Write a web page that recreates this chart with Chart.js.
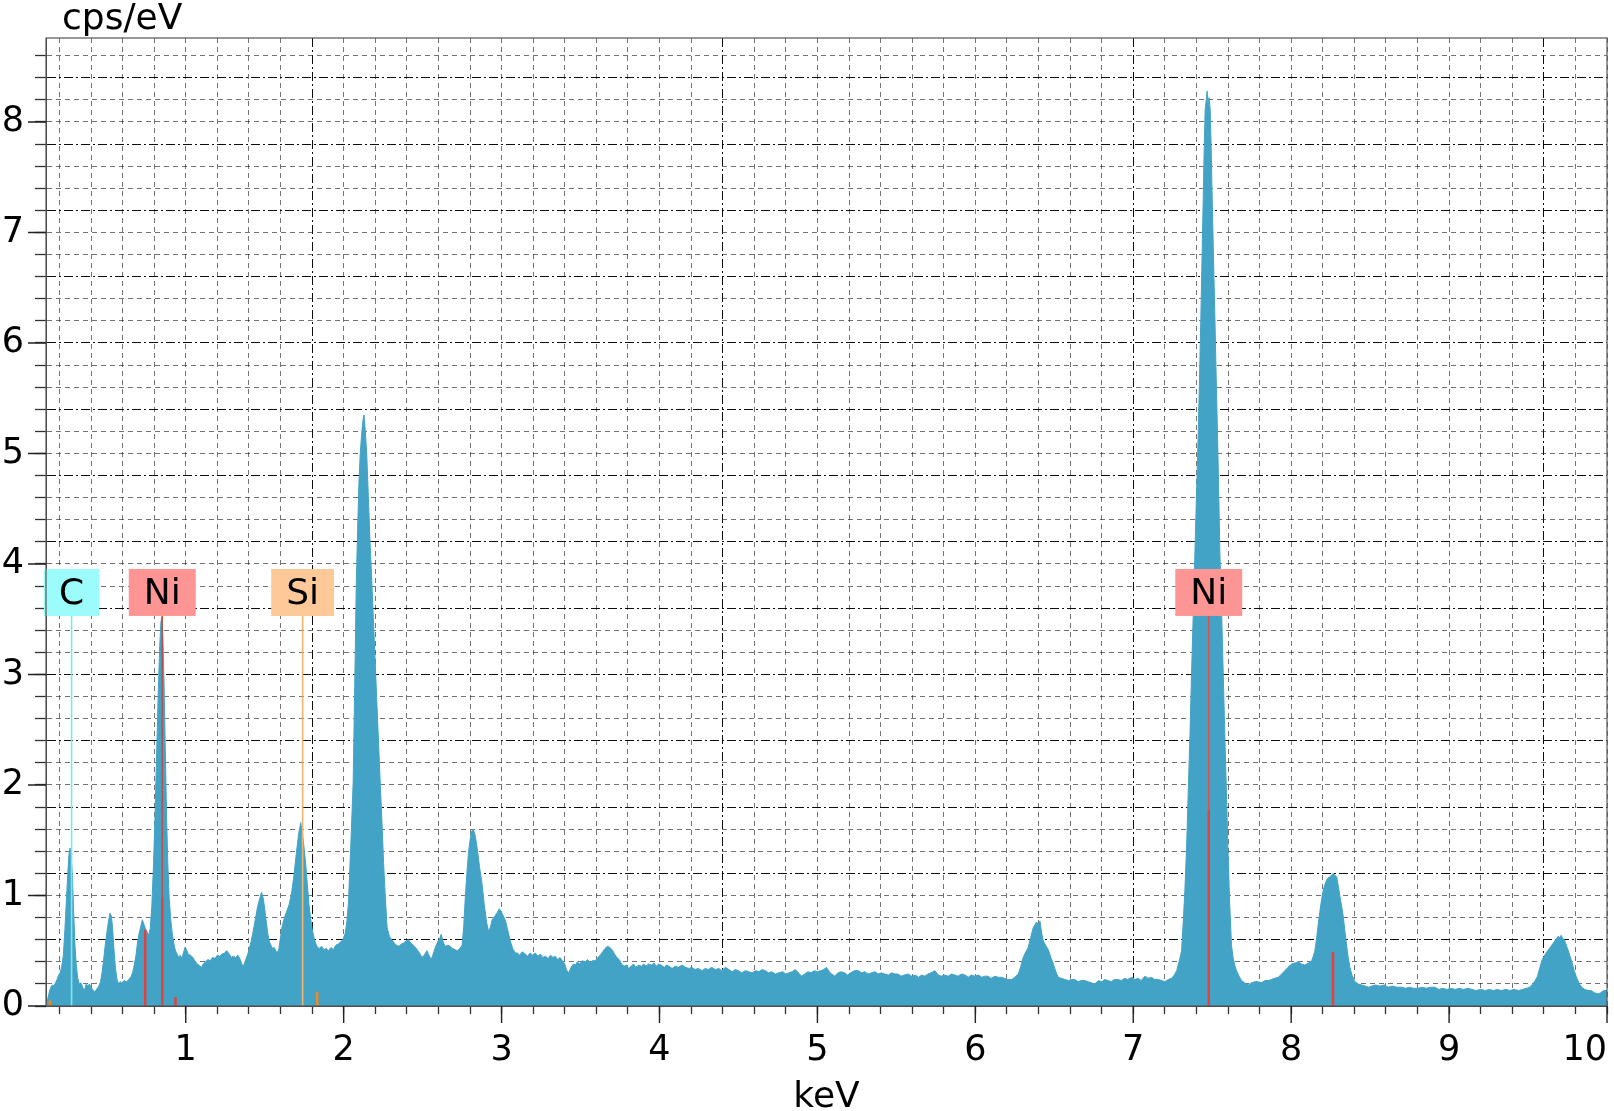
<!DOCTYPE html>
<html>
<head>
<meta charset="utf-8">
<script src="https://cdn.jsdelivr.net/npm/chart.js@4.4.1/dist/chart.umd.min.js"></script>
<style>
  html, body { margin: 0; padding: 0; background: #fff; }
  #wrap { width: 1614px; height: 1111px; }
</style>
</head>
<body>
<div id="wrap"><canvas id="chart" width="1614" height="1111"></canvas></div>
<script>
// axis ranges (keV / cps per eV)
const xMin = 0.115
const xMax = 10
const yMin = 0
const yMax = 8.76
const minorStep = 0.2

const xTickLabels = [1, 2, 3, 4, 5, 6, 7, 8, 9, 10]
const yTickLabels = [0, 1, 2, 3, 4, 5, 6, 7, 8]
const xDarkGrid = [1.8, 4.4, 7.0, 9.6]
const yDarkGrid = [0.6, 1.2, 1.8, 2.4, 3.0, 3.6, 4.2, 4.8, 5.4, 6.0, 6.6, 7.2, 7.8, 8.4]

// element labels
const elementNames = ['C', 'Ni', 'Si', 'Ni']
const elementEnergies = [0.277, 0.851, 1.740, 7.478]
const elementBoxColors = ['#9cfcfc', '#fd9595', '#fec898', '#fd9595']
const elementLineColors = ['#7fe6ef', '#b5544f', '#f3b46c', '#e0504c']
const labelTop = 3.955
const labelBottom = 3.53

// characteristic line markers
const markerEnergies = [0.139, 0.743, 0.851, 0.935, 1.832, 7.478, 8.265]
const markerHeights = [0.05, 0.69, 0.98, 0.08, 0.13, 1.77, 0.49]
const markerColors = ['#f08a1e', '#e0433d', '#e0433d', '#e0433d', '#f08a1e', '#e8413c', '#e8413c']

// spectrum [keV, cps/eV]
const spectrumPoints = [
  [0.118,0.00],[0.125,0.06],[0.135,0.12],[0.145,0.17],[0.155,0.19],[0.165,0.18],[0.175,0.21],[0.185,0.24],
  [0.195,0.28],[0.205,0.30],[0.215,0.36],[0.225,0.46],[0.235,0.70],[0.245,0.98],[0.255,1.25],[0.262,1.40],
  [0.268,1.43],[0.274,1.36],[0.282,1.18],[0.290,0.86],[0.298,0.56],[0.306,0.38],[0.315,0.26],[0.325,0.20],
  [0.335,0.21],[0.345,0.18],[0.355,0.14],[0.362,0.16],[0.370,0.20],[0.380,0.18],[0.390,0.20],[0.400,0.17],
  [0.410,0.15],[0.420,0.13],[0.430,0.14],[0.440,0.16],[0.450,0.18],[0.460,0.22],[0.470,0.30],[0.480,0.42],
  [0.490,0.55],[0.500,0.66],[0.510,0.76],[0.520,0.84],[0.528,0.82],[0.536,0.72],[0.545,0.52],[0.555,0.34],
  [0.565,0.24],[0.575,0.20],[0.585,0.22],[0.595,0.21],[0.610,0.23],[0.625,0.22],[0.640,0.24],[0.655,0.27],
  [0.665,0.31],[0.675,0.38],[0.685,0.46],[0.695,0.58],[0.705,0.66],[0.715,0.72],[0.725,0.78],[0.735,0.74],
  [0.745,0.70],[0.755,0.67],[0.765,0.64],[0.775,0.70],
  [0.785,0.90],[0.795,1.25],[0.805,1.70],[0.815,2.25],[0.825,2.80],[0.835,3.25],[0.843,3.48],[0.849,3.52],
  [0.855,3.35],[0.862,2.95],[0.870,2.35],[0.878,1.75],[0.886,1.30],[0.895,0.98],[0.905,0.78],[0.915,0.65],
  [0.925,0.56],[0.935,0.50],[0.945,0.47],[0.955,0.44],[0.965,0.46],[0.975,0.43],[0.985,0.48],[0.995,0.53],
  [1.005,0.51],[1.015,0.47],[1.030,0.46],[1.045,0.44],[1.060,0.40],[1.075,0.38],[1.090,0.36],[1.100,0.35],
  [1.110,0.38],[1.125,0.40],[1.140,0.42],[1.155,0.41],[1.170,0.44],[1.185,0.43],[1.200,0.46],[1.215,0.45],
  [1.230,0.47],[1.245,0.48],[1.260,0.50],[1.275,0.47],[1.290,0.44],[1.300,0.45],[1.315,0.44],[1.330,0.46],
  [1.345,0.42],[1.355,0.38],[1.365,0.36],[1.380,0.42],[1.395,0.48],[1.410,0.56],[1.425,0.66],[1.440,0.78],
  [1.455,0.90],[1.470,0.98],[1.480,1.03],[1.490,0.98],[1.500,0.88],[1.510,0.76],[1.520,0.65],[1.530,0.58],
  [1.540,0.55],[1.550,0.52],[1.560,0.53],[1.570,0.50],[1.580,0.48],[1.590,0.52],[1.600,0.62],[1.610,0.72],
  [1.625,0.80],[1.640,0.86],[1.655,0.92],[1.670,1.02],[1.685,1.18],[1.700,1.38],[1.715,1.56],[1.728,1.66],
  [1.740,1.55],[1.750,1.42],[1.760,1.28],[1.770,1.10],[1.780,0.92],[1.790,0.80],[1.800,0.70],[1.815,0.60],
  [1.830,0.54],[1.845,0.52],[1.860,0.54],[1.875,0.51],[1.890,0.52],[1.905,0.50],[1.920,0.53],[1.935,0.51],
  [1.950,0.55],[1.965,0.56],[1.980,0.58],[1.995,0.60],[2.010,0.66],[2.020,0.76],[2.030,0.93],[2.045,1.45],
  [2.060,2.02],[2.070,2.90],[2.080,3.84],[2.090,4.40],[2.097,4.75],[2.105,5.00],[2.114,5.18],[2.122,5.30],
  [2.129,5.35],[2.137,5.20],[2.146,5.00],[2.156,4.62],[2.167,4.20],[2.178,3.85],[2.189,3.47],[2.200,3.10],
  [2.210,2.75],[2.221,2.38],[2.232,2.00],[2.243,1.65],[2.253,1.29],[2.264,0.98],[2.275,0.71],[2.290,0.63],
  [2.305,0.60],[2.320,0.57],[2.335,0.55],[2.350,0.54],[2.365,0.56],[2.380,0.57],[2.395,0.59],[2.410,0.60],
  [2.425,0.57],[2.440,0.55],[2.455,0.53],[2.470,0.50],[2.485,0.47],[2.495,0.44],[2.510,0.46],[2.527,0.50],
  [2.540,0.46],[2.554,0.42],[2.567,0.47],[2.580,0.53],[2.595,0.58],[2.610,0.62],[2.618,0.65],[2.630,0.58],
  [2.643,0.54],[2.660,0.55],[2.675,0.54],[2.690,0.52],[2.705,0.51],[2.720,0.50],[2.735,0.52],[2.750,0.55],
  [2.760,0.72],[2.770,0.98],[2.780,1.20],[2.790,1.38],[2.800,1.50],[2.810,1.58],[2.820,1.60],[2.830,1.56],
  [2.840,1.48],[2.850,1.38],[2.860,1.26],[2.875,1.12],[2.890,0.92],[2.905,0.76],[2.918,0.67],[2.930,0.72],
  [2.940,0.78],[2.955,0.81],[2.970,0.84],[2.985,0.88],[2.995,0.86],[3.010,0.82],[3.025,0.77],[3.040,0.68],
  [3.055,0.59],[3.070,0.52],[3.087,0.48],[3.100,0.48],[3.115,0.46],[3.130,0.49],[3.150,0.47],[3.165,0.45],
  [3.180,0.48],[3.195,0.46],[3.213,0.48],[3.230,0.45],[3.245,0.47],[3.260,0.44],[3.277,0.45],[3.295,0.43],
  [3.310,0.46],[3.325,0.44],[3.340,0.45],[3.355,0.42],[3.370,0.44],[3.385,0.41],[3.400,0.38],[3.410,0.33],
  [3.425,0.30],[3.440,0.35],[3.455,0.38],[3.467,0.37],[3.480,0.40],[3.495,0.38],[3.510,0.41],[3.530,0.40],
  [3.545,0.42],[3.560,0.39],[3.575,0.41],[3.594,0.41],[3.610,0.44],[3.625,0.46],[3.640,0.49],[3.655,0.52],
  [3.670,0.54],[3.685,0.53],[3.700,0.51],[3.715,0.47],[3.730,0.44],[3.745,0.42],[3.760,0.38],[3.775,0.36],
  [3.790,0.37],[3.805,0.34],[3.820,0.36],[3.835,0.38],[3.850,0.35],[3.868,0.37],[3.885,0.36],[3.900,0.38],
  [3.915,0.36],[3.930,0.38],[3.950,0.37],[3.965,0.39],[3.980,0.36],[3.995,0.38],[4.010,0.37],[4.030,0.35],
  [4.045,0.37],[4.060,0.36],[4.080,0.34],[4.100,0.36],[4.120,0.35],[4.143,0.37],[4.165,0.35],[4.185,0.34],
  [4.206,0.35],[4.225,0.33],[4.245,0.34],[4.270,0.32],[4.290,0.34],[4.310,0.33],[4.330,0.35],[4.354,0.33],
  [4.375,0.34],[4.395,0.32],[4.417,0.35],[4.440,0.33],[4.460,0.31],[4.480,0.33],[4.500,0.32],[4.520,0.30],
  [4.545,0.32],[4.565,0.31],[4.586,0.30],[4.610,0.32],[4.630,0.31],[4.650,0.33],[4.670,0.32],[4.690,0.30],
  [4.710,0.31],[4.735,0.29],[4.755,0.30],[4.780,0.31],[4.800,0.29],[4.820,0.30],[4.840,0.31],[4.860,0.33],
  [4.880,0.30],[4.900,0.27],[4.920,0.29],[4.940,0.31],[4.960,0.30],[4.980,0.32],[5.000,0.31],[5.020,0.32],
  [5.040,0.33],[5.057,0.35],[5.075,0.31],[5.090,0.29],[5.110,0.27],[5.130,0.30],[5.150,0.31],[5.173,0.30],
  [5.190,0.28],[5.210,0.30],[5.235,0.32],[5.258,0.32],[5.280,0.30],[5.300,0.31],[5.320,0.29],[5.342,0.30],
  [5.365,0.31],[5.385,0.29],[5.405,0.30],[5.427,0.29],[5.450,0.28],[5.470,0.30],[5.490,0.29],[5.510,0.29],
  [5.530,0.27],[5.550,0.28],[5.575,0.29],[5.596,0.27],[5.620,0.28],[5.640,0.26],[5.660,0.28],[5.680,0.27],
  [5.700,0.29],[5.720,0.30],[5.744,0.32],[5.765,0.28],[5.785,0.27],[5.805,0.28],[5.828,0.27],[5.850,0.29],
  [5.870,0.28],[5.890,0.27],[5.913,0.29],[5.935,0.28],[5.955,0.26],[5.975,0.28],[5.997,0.27],[6.020,0.28],
  [6.040,0.26],[6.060,0.27],[6.080,0.27],[6.100,0.25],[6.125,0.27],[6.145,0.26],[6.166,0.26],[6.185,0.25],
  [6.205,0.24],[6.230,0.24],[6.250,0.26],[6.272,0.29],[6.288,0.36],[6.303,0.44],[6.320,0.49],[6.335,0.53],
  [6.350,0.62],[6.367,0.71],[6.388,0.76],[6.400,0.73],[6.409,0.77],[6.420,0.66],[6.430,0.59],[6.445,0.55],
  [6.462,0.51],[6.478,0.44],[6.494,0.38],[6.510,0.31],[6.525,0.26],[6.545,0.25],[6.567,0.24],[6.590,0.23],
  [6.610,0.24],[6.630,0.24],[6.650,0.22],[6.670,0.23],[6.694,0.23],[6.715,0.22],[6.735,0.21],[6.757,0.20],
  [6.780,0.23],[6.800,0.22],[6.820,0.24],[6.840,0.23],[6.860,0.22],[6.880,0.24],[6.905,0.24],[6.925,0.23],
  [6.945,0.25],[6.965,0.24],[6.990,0.26],[7.010,0.24],[7.030,0.25],[7.050,0.23],[7.074,0.27],[7.095,0.25],
  [7.115,0.26],[7.135,0.24],[7.159,0.24],[7.180,0.23],[7.200,0.22],[7.222,0.24],[7.243,0.25],[7.260,0.28],
  [7.275,0.32],[7.290,0.40],[7.306,0.50],[7.318,0.80],[7.327,1.05],[7.338,1.45],[7.348,1.93],[7.359,2.45],
  [7.369,3.00],[7.380,3.55],[7.390,4.08],[7.400,4.60],[7.411,5.15],[7.420,5.70],[7.428,6.23],[7.436,6.80],
  [7.443,7.30],[7.449,7.75],[7.455,8.10],[7.462,8.20],[7.468,8.28],[7.474,8.15],[7.480,8.22],[7.487,8.12],
  [7.493,7.80],[7.500,7.30],[7.508,6.78],[7.517,6.23],[7.525,5.70],[7.534,5.15],[7.542,4.60],[7.549,4.08],
  [7.560,3.55],[7.570,3.00],[7.580,2.45],[7.590,1.93],[7.600,1.40],[7.610,0.95],[7.622,0.55],[7.633,0.43],
  [7.645,0.36],[7.654,0.32],[7.670,0.27],[7.686,0.23],[7.705,0.21],[7.728,0.19],[7.750,0.21],[7.770,0.22],
  [7.790,0.22],[7.810,0.21],[7.835,0.23],[7.855,0.23],[7.875,0.24],[7.895,0.25],[7.918,0.26],[7.940,0.29],
  [7.960,0.32],[7.980,0.35],[8.003,0.38],[8.025,0.39],[8.045,0.40],[8.065,0.38],[8.087,0.37],[8.110,0.39],
  [8.130,0.41],[8.140,0.45],[8.150,0.50],[8.162,0.62],[8.172,0.75],[8.188,0.92],[8.203,1.05],[8.214,1.10],
  [8.224,1.14],[8.235,1.16],[8.247,1.17],[8.258,1.19],[8.267,1.20],[8.278,1.18],[8.288,1.17],[8.299,1.08],
  [8.309,0.99],[8.320,0.90],[8.330,0.81],[8.340,0.68],[8.350,0.56],[8.360,0.45],[8.372,0.35],[8.385,0.28],
  [8.404,0.22],[8.425,0.20],[8.446,0.19],[8.470,0.18],[8.490,0.17],[8.510,0.18],[8.535,0.19],[8.560,0.18],
  [8.590,0.19],[8.615,0.17],[8.640,0.18],[8.670,0.17],[8.700,0.17],[8.725,0.16],[8.750,0.17],[8.775,0.16],
  [8.800,0.16],[8.830,0.17],[8.855,0.16],[8.880,0.17],[8.910,0.17],[8.935,0.15],[8.960,0.16],[8.985,0.15],
  [9.010,0.16],[9.040,0.15],[9.065,0.16],[9.090,0.15],[9.120,0.16],[9.145,0.15],[9.170,0.14],[9.200,0.15],
  [9.230,0.14],[9.255,0.15],[9.280,0.14],[9.305,0.15],[9.330,0.14],[9.360,0.15],[9.385,0.14],[9.410,0.15],
  [9.440,0.14],[9.465,0.15],[9.490,0.16],[9.510,0.17],[9.530,0.20],[9.545,0.23],[9.560,0.27],[9.575,0.35],
  [9.590,0.42],[9.605,0.46],[9.620,0.49],[9.635,0.52],[9.650,0.55],[9.665,0.58],[9.680,0.61],[9.690,0.63],
  [9.700,0.62],[9.710,0.64],[9.720,0.61],[9.730,0.60],[9.740,0.56],[9.755,0.50],[9.775,0.41],[9.790,0.33],
  [9.807,0.26],[9.825,0.20],[9.840,0.17],[9.860,0.15],[9.880,0.14],[9.900,0.14],[9.920,0.12],[9.944,0.11],
  [9.960,0.12],[9.980,0.14],[10.00,0.14]
]

const fillBlue = '#42a3c6'
const lightGrid = 'rgba(30, 30, 30, 0.62)'
const darkGrid = 'rgba(0, 0, 0, 0.95)'
const fontFamily = '"DejaVu Sans", Verdana, sans-serif'

function isOnList(v, list) {
    return list.some(item => Math.abs(item - v) < 1e-6)
}

function buildTicks(scale, from, to) {
    const ticks = []
    for (let i = Math.ceil(from / minorStep - 1e-6); i * minorStep <= to + 1e-6; i++) {
        ticks.push({ value: Math.round(i * minorStep * 10) / 10 })
    }
    scale.ticks = ticks
}

const decorPlugin = {
    id: 'decor',
    afterDatasetsDraw(chart) {
        const ctx = chart.ctx
        const x = chart.scales.x
        const y = chart.scales.y
        const base = y.getPixelForValue(0)
        ctx.save()

        // connector lines from label boxes down to baseline
        for (let i = 0; i < elementNames.length; i++) {
            const px = x.getPixelForValue(elementEnergies[i])
            ctx.strokeStyle = elementLineColors[i]
            ctx.lineWidth = 1.6
            ctx.beginPath()
            ctx.moveTo(px, y.getPixelForValue(labelBottom))
            ctx.lineTo(px, base)
            ctx.stroke()
        }

        // line markers
        for (let i = 0; i < markerEnergies.length; i++) {
            const px = x.getPixelForValue(markerEnergies[i])
            ctx.strokeStyle = markerColors[i]
            ctx.lineWidth = 2.5
            ctx.beginPath()
            ctx.moveTo(px, base)
            ctx.lineTo(px, y.getPixelForValue(markerHeights[i]))
            ctx.stroke()
        }

        // label boxes
        ctx.font = '36px ' + fontFamily
        ctx.textAlign = 'center'
        ctx.textBaseline = 'middle'
        const top = y.getPixelForValue(labelTop)
        const bottom = y.getPixelForValue(labelBottom)
        for (let i = 0; i < elementNames.length; i++) {
            const px = x.getPixelForValue(elementEnergies[i])
            const w = ctx.measureText(elementNames[i]).width + 30
            ctx.fillStyle = elementBoxColors[i]
            ctx.fillRect(px - w / 2, top, w, bottom - top)
            ctx.fillStyle = '#000'
            ctx.fillText(elementNames[i], px, (top + bottom) / 2 + 2)
        }
        ctx.restore()
    },
    afterDraw(chart) {
        const ctx = chart.ctx
        const area = chart.chartArea
        const x = chart.scales.x
        const y = chart.scales.y
        ctx.save()

        // frame
        ctx.strokeStyle = '#555'
        ctx.lineWidth = 1.2
        ctx.strokeRect(area.left, area.top, area.right - area.left, area.bottom - area.top)

        // long ticks at labelled values
        ctx.strokeStyle = '#222'
        ctx.lineWidth = 1.4
        ctx.beginPath()
        xTickLabels.forEach(v => {
            const px = x.getPixelForValue(v)
            ctx.moveTo(px, area.bottom)
            ctx.lineTo(px, area.bottom + 17)
        })
        yTickLabels.forEach(v => {
            const py = y.getPixelForValue(v)
            ctx.moveTo(area.left - 18, py)
            ctx.lineTo(area.left, py)
        })
        ctx.stroke()

        // unit label
        ctx.fillStyle = '#000'
        ctx.font = '36px ' + fontFamily
        ctx.textAlign = 'left'
        ctx.textBaseline = 'alphabetic'
        ctx.fillText('cps/eV', area.left + 16, 29)
        ctx.restore()
    }
}

const config = {
    type: 'line',
    data: {
        datasets: [{
            label: 'spectrum',
            data: spectrumPoints.map(p => ({ x: p[0], y: p[1] })),
            borderColor: fillBlue,
            backgroundColor: fillBlue,
            borderWidth: 1,
            fill: 'origin',
            pointRadius: 0,
            tension: 0,
        }]
    },
    options: {
        responsive: false,
        animation: false,
        devicePixelRatio: 1,
        layout: {
            padding: { top: 38, right: 7, bottom: 0, left: 0 }
        },
        scales: {
            x: {
                type: 'linear',
                min: xMin,
                max: xMax,
                afterBuildTicks: (scale) => buildTicks(scale, xMin, xMax),
                afterFit: (scale) => {
                    scale.height = 105
                    scale.paddingLeft = 0
                    scale.paddingRight = 0
                },
                ticks: {
                    autoSkip: false,
                    maxRotation: 0,
                    align: 'inner',
                    padding: 16,
                    color: '#000',
                    font: { family: fontFamily, size: 35 },
                    callback: (value) => isOnList(value, xTickLabels) ? String(value) : ''
                },
                grid: {
                    color: (ctx) => ctx.tick && isOnList(ctx.tick.value, xDarkGrid) ? darkGrid : lightGrid,
                    lineWidth: 1,
                    tickLength: 8,
                    tickColor: '#333',
                    tickWidth: 1.3,
                },
                border: {
                    display: true,
                    color: '#444',
                    width: 1,
                    dash: (ctx) => ctx.tick && isOnList(ctx.tick.value, xDarkGrid) ? [9, 3, 2, 3] : [5, 4],
                },
                title: {
                    display: true,
                    text: 'keV',
                    color: '#000',
                    font: { family: fontFamily, size: 36, lineHeight: 0.66 },
                    padding: { top: 0, bottom: 1 }
                }
            },
            y: {
                type: 'linear',
                min: yMin,
                max: yMax,
                afterBuildTicks: (scale) => buildTicks(scale, yMin, yMax),
                afterFit: (scale) => {
                    scale.width = 46
                    scale.paddingTop = 0
                    scale.paddingBottom = 0
                },
                ticks: {
                    autoSkip: false,
                    padding: 11,
                    color: '#000',
                    font: { family: fontFamily, size: 35 },
                    callback: (value) => isOnList(value, yTickLabels) ? String(value) : ''
                },
                grid: {
                    color: (ctx) => ctx.tick && isOnList(ctx.tick.value, yDarkGrid) ? darkGrid : lightGrid,
                    lineWidth: 1,
                    tickLength: 11,
                    tickColor: '#333',
                    tickWidth: 1.3,
                },
                border: {
                    display: true,
                    color: '#444',
                    width: 1,
                    dash: (ctx) => ctx.tick && isOnList(ctx.tick.value, yDarkGrid) ? [9, 3, 2, 3] : [5, 4],
                }
            }
        },
        plugins: {
            legend: { display: false },
            tooltip: { enabled: false }
        }
    },
    plugins: [decorPlugin]
}

const chart = new Chart(document.getElementById('chart'), config)
</script>
</body>
</html>
